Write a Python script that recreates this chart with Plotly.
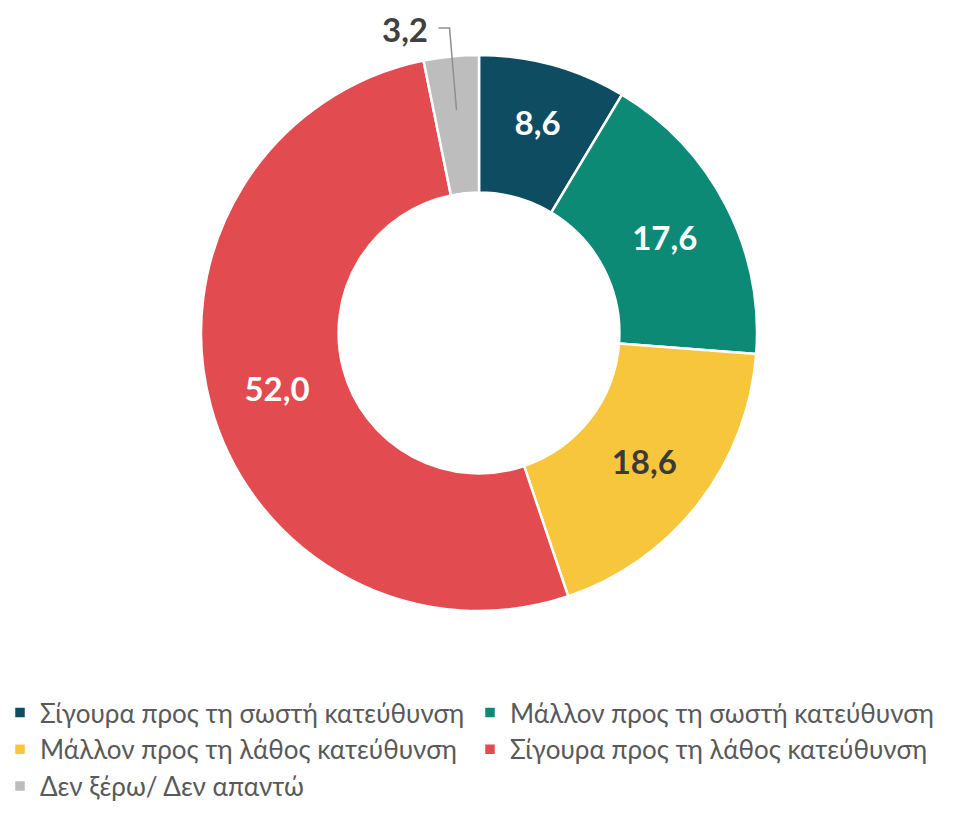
import math
import plotly.graph_objects as go

labels = [
    "Σίγουρα προς τη σωστή κατεύθυνση",
    "Μάλλον προς τη σωστή κατεύθυνση",
    "Μάλλον προς τη λάθος κατεύθυνση",
    "Σίγουρα προς τη λάθος κατεύθυνση",
    "Δεν ξέρω/ Δεν απαντώ",
]
values = [8.6, 17.6, 18.6, 52.0, 3.2]
colors = ["#0E4C62", "#0C8A76", "#F8C63D", "#E24B4F", "#BDBDBD"]
text_colors = ["#FFFFFF", "#FFFFFF", "#3A3A3A", "#FFFFFF", "#404040"]
text_positions = ["inside", "inside", "inside", "inside", "none"]

W, H = 958, 814
MB = 130                      # bottom margin reserved for the legend
PH = H - MB                   # plot-area height
top_px, diam_px = 55, 556
HOLE = 0.505

fig = go.Figure(go.Pie(
    labels=labels,
    values=values,
    hole=HOLE,
    sort=False,
    direction="clockwise",
    rotation=0,
    marker=dict(colors=colors, line=dict(color="#FFFFFF", width=2.5)),
    texttemplate="%{value:.1f}",
    textposition=text_positions,
    insidetextorientation="horizontal",
    textfont=dict(family="Lato", size=33, color=text_colors, weight="bold"),
    automargin=False,
    domain=dict(x=[0, 1], y=[1 - (top_px + diam_px) / PH, 1 - top_px / PH]),
    showlegend=True,
))

# outside label with elbow leader line for the small last slice
cx, cy, R = W / 2, top_px + diam_px / 2, diam_px / 2
total = sum(values)
mid_frac = (total - values[-1] / 2) / total
theta = 2 * math.pi * mid_frac                    # clockwise from 12 o'clock
r_anchor = R * (HOLE + 1) / 2 * 1.07
px_ = cx + r_anchor * math.sin(theta)
py_ = cy - r_anchor * math.cos(theta)
label_y = 28
elbow_x = px_ - 7
text_right = elbow_x - 20

def to_paper(x, y):
    return x / W, (PH - y) / PH

p0, p1, p2 = to_paper(px_, py_), to_paper(elbow_x, label_y), to_paper(elbow_x - 11, label_y)
fig.add_shape(
    type="path", xref="paper", yref="paper",
    path=f"M {p0[0]},{p0[1]} L {p1[0]},{p1[1]} L {p2[0]},{p2[1]}",
    line=dict(color="#8F8F8F", width=1.5),
)
tx, ty = to_paper(text_right, label_y + 1)
fig.add_annotation(
    x=tx, y=ty, xref="paper", yref="paper", xanchor="right", yanchor="middle",
    text=f"{values[-1]:.1f}".replace(".", ","), showarrow=False,
    font=dict(family="Lato", size=33, color="#404040", weight="bold"),
)

fig.update_layout(
    width=W, height=H,
    margin=dict(l=0, r=0, t=0, b=MB, autoexpand=False),
    separators=",.",
    paper_bgcolor="white",
    plot_bgcolor="white",
    font=dict(family="Lato", color="#595959"),
    legend=dict(
        orientation="h",
        x=0, xanchor="left",
        y=(PH - 689) / PH, yanchor="top",
        font=dict(family="Lato", size=26, color="#595959"),
        entrywidth=425, entrywidthmode="pixels",
        itemclick=False,
    ),
)

fig.write_html(
    "out.html",
    config={"displayModeBar": False},
    post_script="document.body.style.margin='0';",
)
